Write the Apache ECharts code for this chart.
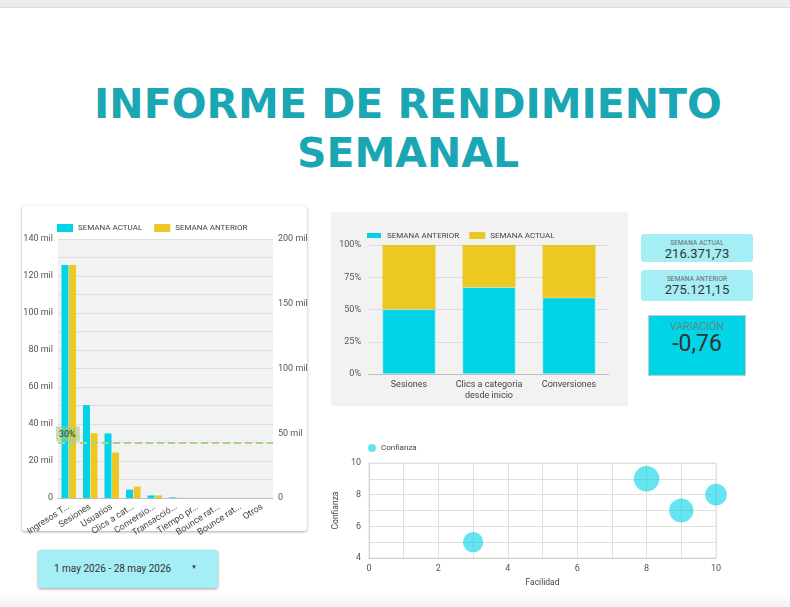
<!DOCTYPE html>
<html>
<head>
<meta charset="utf-8">
<script src="https://cdn.jsdelivr.net/npm/echarts@6/dist/echarts.min.js"></script>
<style>
  html, body { margin: 0; padding: 0; width: 790px; height: 607px; overflow: hidden; background: #fff; font-family: Roboto, "Liberation Sans", sans-serif; }
  .topbar { position: absolute; left: 0; top: 0; width: 790px; height: 7px; background: #ececec; border-bottom: 1px solid #dcdcdc; }
  .bottombar { position: absolute; left: 0; top: 594px; width: 790px; height: 13px; background: linear-gradient(#fff, #f1f1f1); }
  .title { position: absolute; left: 88px; top: 80px; width: 640px; text-align: center; font-family: "DejaVu Sans", sans-serif; font-weight: bold; font-size: 41px; line-height: 49px; color: #1ba6b4; }
  .card { position: absolute; left: 22px; top: 206px; width: 285px; height: 325px; background: #fff; border-radius: 3px; box-shadow: 0 1px 3px rgba(0,0,0,0.35); }
  #barChart { position: absolute; left: 2px; top: 206px; width: 320px; height: 330px; }
  #stackChart { position: absolute; left: 331px; top: 212px; width: 297px; height: 194px; background: #f2f2f2; border-radius: 2px; }
  #bubbleChart { position: absolute; left: 331px; top: 432px; width: 400px; height: 160px; }
  .kpi { position: absolute; background: #a6eef5; border-radius: 3px; text-align: center; color: #333; }
  .kpi .lab { font-size: 6.5px; color: #666; letter-spacing: 0.1px; }
  .kpi .val { font-size: 13px; }
  .var { position: absolute; left: 648px; top: 315px; width: 96px; height: 59px; background: #00d4e6; border: 1px solid #c8c8c8; text-align: center; color: #333; }
  .var .lab { font-size: 10.5px; color: #5c8a90; margin-top: 5px; line-height: 12px; }
  .var .val { font-size: 23px; line-height: 22px; }
  .date { position: absolute; left: 38px; top: 550px; width: 180px; height: 38px; background: #a6eef5; border-radius: 3px; box-shadow: 0 1px 3px rgba(0,0,0,0.4); font-size: 10px; color: #333; }
  .date span { position: absolute; left: 16px; top: 13px; }
  .date i { position: absolute; left: 153px; top: 13px; font-style: normal; font-size: 6px; }
</style>
</head>
<body>
<div class="topbar"></div>
<div class="title">INFORME DE RENDIMIENTO<br>SEMANAL</div>

<div class="card"></div>
<div id="barChart"></div>
<div id="stackChart"></div>
<div id="bubbleChart"></div>

<div class="kpi" style="left:641px;top:234px;width:112px;height:28px;">
  <div class="lab" style="margin-top:5px;line-height:8px;">SEMANA ACTUAL</div>
  <div class="val" style="line-height:13px;">216.371,73</div>
</div>
<div class="kpi" style="left:641px;top:270px;width:112px;height:31px;">
  <div class="lab" style="margin-top:5px;line-height:8px;">SEMANA ANTERIOR</div>
  <div class="val" style="line-height:14px;">275.121,15</div>
</div>
<div class="var">
  <div class="lab">VARIACIÓN</div>
  <div class="val">-0,76</div>
</div>

<div class="date"><span>1 may 2026 - 28 may 2026</span><i>▼</i></div>
<div class="bottombar"></div>

<script>
// ---- datos ----
const metricas = ['Ingresos T...', 'Sesiones', 'Usuarios', 'Clics a cat...', 'Conversio...', 'Transacció...', 'Tiempo pr...', 'Bounce rat...', 'Bounce rat...', 'Otros']
const semanaActual = [125900, 50200, 34900, 4500, 1400, 300, 0, 0, 0, 0]      // eje izquierdo
const semanaAnterior = [180000, 50000, 35100, 8800, 2000, 150, 0, 0, 0, 0]   // eje derecho
const referencia = 30000

const categoriasPct = ['Sesiones', 'Clics a categoria\ndesde inicio', 'Conversiones']
const pctAnterior = [50.1, 67.2, 59.2]
const pctActual = [49.9, 32.8, 40.8]

const facilidad = [3, 8, 9, 10]
const confianza = [5, 9, 7, 8]
const impacto = [8, 10, 9.5, 8.5]

const CYAN = '#00d4e6'
const YELLOW = '#ecc823'
const txt = { color: '#555', fontSize: 9, fontFamily: 'Roboto' }

const milFmt = v => v === 0 ? '0' : (v / 1000) + ' mil'

// ---- barras ----
const barChart = echarts.init(document.getElementById('barChart'))
barChart.setOption({
  animation: false,
  textStyle: { fontFamily: 'Roboto' },
  legend: {
    left: 50, top: 13, icon: 'rect', itemWidth: 16, itemHeight: 8, itemGap: 12,
    textStyle: { color: '#444', fontSize: 8 },
    data: ['SEMANA ACTUAL', 'SEMANA ANTERIOR']
  },
  grid: { left: 56, top: 33, width: 215, height: 259, show: true, backgroundColor: '#f2f2f2', borderWidth: 0, outerBoundsMode: 'none' },
  xAxis: {
    type: 'category', data: metricas,
    axisTick: { show: false },
    axisLine: { lineStyle: { color: '#bdbdbd' } },
    axisLabel: Object.assign({ rotate: 33, interval: 0, margin: 8 }, txt, { color: '#444' })
  },
  yAxis: [
    {
      type: 'value', min: 0, max: 140000, interval: 20000,
      axisLabel: Object.assign({ formatter: milFmt, margin: 5 }, txt),
      axisLine: { show: false }, axisTick: { show: false },
      splitLine: { lineStyle: { color: '#dedede' } },
      minorTick: { show: false, splitNumber: 2 },
      minorSplitLine: { show: true, lineStyle: { color: '#dedede' } }
    },
    {
      type: 'value', min: 0, max: 200000, interval: 50000, position: 'right',
      axisLabel: Object.assign({ formatter: milFmt, margin: 5 }, txt),
      axisLine: { show: false }, axisTick: { show: false },
      splitLine: { show: false }
    }
  ],
  series: [
    {
      name: 'SEMANA ACTUAL', type: 'bar', data: semanaActual, yAxisIndex: 0,
      barWidth: 7, barGap: '8%', itemStyle: { color: CYAN },
      markLine: {
        silent: true, symbol: 'none',
        lineStyle: { color: '#a9d18e', type: [7, 4], width: 2 },
        label: {
          position: 'insideStartTop', distance: [-2, 1], formatter: '30%',
          color: '#333', fontSize: 9, backgroundColor: 'rgba(165,205,125,0.6)', padding: [4, 4, 2, 3]
        },
        data: [{ yAxis: referencia }]
      }
    },
    {
      name: 'SEMANA ANTERIOR', type: 'bar', data: semanaAnterior, yAxisIndex: 1,
      barWidth: 7, itemStyle: { color: YELLOW }
    }
  ]
})

// ---- barras 100% ----
const stackChart = echarts.init(document.getElementById('stackChart'))
stackChart.setOption({
  animation: false,
  textStyle: { fontFamily: 'Roboto' },
  legend: {
    left: 29, top: 14, icon: 'rect', itemWidth: 16, itemHeight: 7, itemGap: 10,
    textStyle: { color: '#444', fontSize: 8 },
    data: ['SEMANA ANTERIOR', 'SEMANA ACTUAL']
  },
  grid: { left: 38, top: 33, width: 240, height: 129, outerBoundsMode: 'none' },
  xAxis: {
    type: 'category', data: categoriasPct,
    axisTick: { show: false },
    axisLine: { lineStyle: { color: '#bdbdbd' } },
    axisLabel: Object.assign({ interval: 0, margin: 5, lineHeight: 11 }, txt, { color: '#444' })
  },
  yAxis: {
    type: 'value', min: 0, max: 100, interval: 25,
    axisLabel: Object.assign({ formatter: '{value}%', margin: 8 }, txt),
    axisLine: { show: false }, axisTick: { show: false },
    splitLine: { lineStyle: { color: '#dcdcdc' } }
  },
  series: [
    { name: 'SEMANA ANTERIOR', type: 'bar', stack: 'pct', data: pctAnterior, barWidth: 53, itemStyle: { color: CYAN, borderColor: '#f2f2f2', borderWidth: 0.5 } },
    { name: 'SEMANA ACTUAL', type: 'bar', stack: 'pct', data: pctActual, barWidth: 53, itemStyle: { color: YELLOW } }
  ]
})

// ---- burbujas ----
const bubbleChart = echarts.init(document.getElementById('bubbleChart'))
bubbleChart.setOption({
  animation: false,
  textStyle: { fontFamily: 'Roboto' },
  legend: {
    left: 32, top: 7, icon: 'circle', itemWidth: 8, itemHeight: 8,
    textStyle: { color: '#444', fontSize: 8 },
    data: ['Confianza']
  },
  grid: { left: 38, top: 31, width: 347, height: 95, show: true, borderColor: '#e0e0e0', borderWidth: 1, outerBoundsMode: 'none' },
  xAxis: {
    type: 'value', min: 0, max: 10, interval: 2,
    name: 'Facilidad', nameLocation: 'middle', nameGap: 20,
    nameTextStyle: { color: '#444', fontSize: 8.5 },
    axisLabel: Object.assign({ margin: 6 }, txt),
    axisLine: { lineStyle: { color: '#cfcfcf' } }, axisTick: { show: false },
    splitLine: { lineStyle: { color: '#e0e0e0' } },
    minorSplitLine: { show: true, lineStyle: { color: '#e0e0e0' } },
    minorTick: { splitNumber: 2 }
  },
  yAxis: {
    type: 'value', min: 4, max: 10, interval: 2,
    name: 'Confianza', nameLocation: 'middle', nameGap: 22,
    nameTextStyle: { color: '#444', fontSize: 8.5 },
    axisLabel: Object.assign({ margin: 8 }, txt),
    axisLine: { show: true, lineStyle: { color: '#cfcfcf' } }, axisTick: { show: false },
    splitLine: { lineStyle: { color: '#e0e0e0' } },
    minorSplitLine: { show: true, lineStyle: { color: '#e0e0e0' } },
    minorTick: { splitNumber: 2 }
  },
  series: [{
    name: 'Confianza', type: 'scatter',
    data: facilidad.map((f, i) => [f, confianza[i], impacto[i]]),
    symbolSize: d => d[2] * 2.55,
    itemStyle: { color: CYAN, opacity: 0.6 }
  }]
})
</script>
</body>
</html>
